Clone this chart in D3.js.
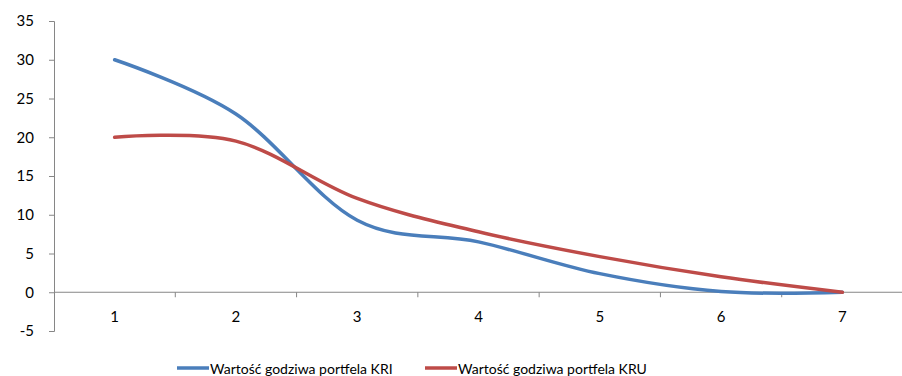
<!DOCTYPE html>
<html>
<head>
<meta charset="utf-8">
<script src="https://cdn.jsdelivr.net/npm/d3@7"></script>
<style>
  body { margin: 0; background: #fff; }
  svg { display: block; font-family: Lato, "Open Sans", sans-serif; }
</style>
</head>
<body>
<div id="chart"></div>
<script>
// Categories and the two series
var categories = ["1", "2", "3", "4", "5", "6", "7"];
var kri = [30, 23, 9.3, 6.5, 2.4, 0.1, 0];
var kru = [20, 19.5, 12.1, 7.8, 4.6, 2.0, 0];
var yTicks = [-5, 0, 5, 10, 15, 20, 25, 30, 35];
var seriesNames = ["Wartość godziwa portfela KRI", "Wartość godziwa portfela KRU"];
var colors = ["#4a7ebb", "#be4b48"];

var width = 902, height = 376;
var svg = d3.select("#chart").append("svg")
    .attr("width", width)
    .attr("height", height);

var plotLeft = 54, plotRight = 903, plotTop = 21, plotBottom = 331;

var x = d3.scaleBand().domain(categories).range([plotLeft, plotRight]);
var y = d3.scaleLinear().domain([-5, 35]).range([plotBottom, plotTop]);

var axisColor = "#868686";
var font = "Lato, 'Open Sans', sans-serif";

// Y axis
var yAxis = svg.append("g")
    .attr("transform", "translate(" + plotLeft + ",0)")
    .call(d3.axisLeft(y).tickValues(yTicks).tickSize(5).tickPadding(15)
        .tickFormat(function(d) { return String(d); }));
yAxis.select(".domain").attr("stroke", axisColor);
yAxis.selectAll(".tick line").attr("stroke", axisColor);
yAxis.selectAll("text").attr("font-size", 15).attr("fill", "#000")
    .attr("font-family", font);

// X axis at zero, ticks on band boundaries
var xAxisG = svg.append("g").attr("transform", "translate(0," + y(0) + ")");
xAxisG.append("line")
    .attr("x1", plotLeft).attr("x2", plotRight)
    .attr("stroke", axisColor);
xAxisG.selectAll("line.tk")
    .data(categories.slice(1))
    .enter().append("line")
    .attr("class", "tk")
    .attr("x1", function(d) { return x(d); })
    .attr("x2", function(d) { return x(d); })
    .attr("y1", 0).attr("y2", 5)
    .attr("stroke", axisColor);
xAxisG.selectAll("text")
    .data(categories)
    .enter().append("text")
    .attr("x", function(d) { return x(d) + x.bandwidth() / 2; })
    .attr("y", 30)
    .attr("text-anchor", "middle")
    .attr("font-size", 15)
    .text(function(d) { return d; });

// Lines, smoothed like the spreadsheet does
var line = d3.line()
    .x(function(d, i) { return x(categories[i]) + x.bandwidth() / 2; })
    .y(function(d) { return y(d); })
    .curve(d3.curveCardinal.tension(0));

[kri, kru].forEach(function(s, i) {
    svg.append("path")
        .datum(s)
        .attr("fill", "none")
        .attr("stroke", colors[i])
        .attr("stroke-width", 3.5)
        .attr("stroke-linecap", "round")
        .attr("d", line);
});

// Legend
var legendX = [177, 425];
seriesNames.forEach(function(name, i) {
    var g = svg.append("g").attr("transform", "translate(" + legendX[i] + ",368)");
    g.append("line")
        .attr("x1", 0).attr("x2", 32)
        .attr("stroke", colors[i])
        .attr("stroke-width", 3.5);
    g.append("text")
        .attr("x", 33)
        .attr("y", 6)
        .attr("font-size", 14)
        .text(name);
});
</script>
</body>
</html>
